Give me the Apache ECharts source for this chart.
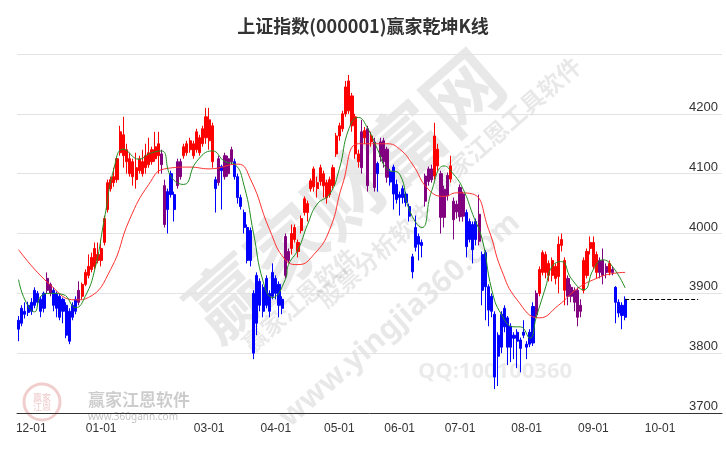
<!DOCTYPE html>
<html><head><meta charset="utf-8">
<script src="https://cdn.jsdelivr.net/npm/echarts@6/dist/echarts.min.js"></script>
<style>html,body{margin:0;padding:0;background:#fff}#c{width:726px;height:450px}</style>
</head><body><div id="c"></div>
<script>
const TOTAL_CATS = 222;
const monthStarts = [4,26,60,81,101,120,139,160,181,202];
const monthLabels = ['12-01','01-01','03-01','04-01','05-01','06-01','07-01','08-01','09-01','10-01'];
const yTicks = [3700,3800,3900,4000,4100,4200];
// [kind, open, close, low, high]  r=red b=blue p=purple
const candles = [
['b',3840,3855,3820,3862],['b',3850,3875,3845,3880],['b',3865,3870,3858,3885],['b',3868,3880,3862,3886],
['b',3870,3885,3864,3892],['b',3880,3905,3875,3910],['b',3885,3900,3880,3904],['b',3870,3890,3860,3895],
['b',3875,3900,3868,3903],['p',3905,3925,3900,3935],['p',3900,3915,3895,3918],['b',3880,3905,3870,3910],
['b',3875,3900,3860,3903],['b',3860,3895,3855,3900],['b',3870,3890,3850,3893],['b',3830,3880,3825,3885],
['b',3820,3870,3815,3875],['b',3860,3880,3855,3885],['b',3870,3890,3865,3895],['p',3885,3905,3880,3920],
['r',3895,3915,3890,3918],['r',3915,3935,3912,3940],['r',3930,3945,3925,3965],['r',3940,3960,3935,3968],
['r',3945,3975,3940,3985],['r',3955,3965,3950,3985],['r',3955,3975,3945,3990],['r',3985,4025,3980,4030],
['r',4040,4085,4035,4090],['r',4075,4090,4070,4095],['r',4085,4095,4078,4110],['r',4090,4125,4085,4128],
['r',4135,4170,4130,4180],['r',4130,4165,4110,4195],['r',4120,4140,4100,4150],['r',4100,4125,4095,4135],
['r',4095,4120,4080,4125],['r',4090,4110,4075,4135],['r',4105,4125,4100,4130],['r',4100,4120,4095,4140],
['r',4110,4130,4100,4150],['r',4115,4135,4110,4160],['r',4120,4140,4115,4145],['r',4125,4145,4120,4170],
['r',4130,4150,4100,4170],['p',4115,4133,4100,4140],['p',4015,4080,4010,4090],['b',4040,4070,4000,4075],
['b',4065,4100,4060,4105],['b',4040,4065,4020,4070],['p',4080,4120,4075,4125],['p',4095,4120,4090,4125],
['r',4130,4145,4125,4150],['r',4135,4150,4130,4155],['r',4140,4155,4135,4160],['r',4130,4150,4125,4155],
['r',4140,4170,4135,4175],['r',4135,4160,4130,4165],['r',4150,4175,4145,4180],['r',4160,4195,4150,4210],
['r',4155,4190,4140,4210],['r',4120,4180,4110,4185],['b',4075,4090,4035,4095],['p',4085,4125,4080,4130],
['b',4105,4112,4040,4115],['p',4095,4130,4090,4135],['p',4100,4125,4095,4130],['p',4120,4140,4115,4145],
['b',4095,4120,4090,4125],['b',4060,4095,4050,4100],['b',4045,4060,4040,4065],['b',4010,4035,4000,4040],
['b',3955,4010,3950,4015],['b',3955,4005,3945,4010],['b',3800,3900,3790,3905],['b',3850,3930,3830,3935],
['b',3880,3920,3870,3925],['b',3870,3910,3860,3915],['b',3880,3925,3875,3930],['b',3870,3900,3860,3905],
['b',3895,3935,3890,3950],['b',3900,3925,3890,3930],['b',3880,3915,3860,3920],['b',3875,3890,3865,3895],
['p',3930,3995,3925,4000],['p',3955,3970,3950,3975],['r',3975,4000,3965,4015],['r',3990,4010,3985,4015],
['r',3970,3985,3960,3990],['r',4005,4025,4000,4030],['r',4035,4058,4030,4062],['r',4035,4050,4020,4055],
['r',4075,4088,4070,4092],['r',4078,4108,4070,4112],['r',4075,4085,4060,4095],['r',4087,4110,4080,4115],
['r',4080,4100,4060,4105],['r',4060,4085,4050,4090],['r',4065,4090,4060,4095],['r',4080,4110,4075,4115],
['r',4133,4163,4128,4168],['r',4163,4180,4155,4185],['r',4175,4200,4170,4205],['r',4200,4245,4195,4255],
['r',4205,4255,4200,4265],['r',4180,4230,4170,4235],['r',4133,4195,4125,4200],['r',4120,4133,4110,4140],
['p',4110,4170,4100,4190],['r',4160,4172,4150,4178],['p',4080,4175,4070,4180],['r',4153,4163,4145,4170],
['p',4077,4153,4070,4160],['b',4100,4117,4070,4120],['p',4128,4153,4120,4160],['p',4120,4155,4110,4160],
['p',4094,4141,4085,4145],['b',4086,4103,4080,4108],['b',4066,4111,4040,4115],['b',4057,4082,4050,4090],
['b',4060,4065,4030,4070],['b',4060,4075,4050,4080],['b',4052,4066,4045,4070],['b',4029,4045,4020,4050],
['b',3936,3961,3925,3966],['b',3977,4010,3970,4030],['b',3982,3995,3955,4000],['b',3980,3985,3960,3990],
['p',4054,4096,4045,4100],['p',4087,4108,4080,4112],['p',4090,4108,4085,4115],['r',4096,4163,4090,4185],
['r',4113,4141,4105,4150],['p',4027,4100,4000,4105],['p',4027,4074,4010,4080],['p',4063,4097,4055,4102],
['r',4091,4113,4085,4130],['p',4023,4054,3990,4060],['p',4036,4049,4025,4055],['p',4028,4077,4020,4082],
['p',4029,4066,4020,4070],['b',3978,4035,3960,4040],['b',3990,4020,3985,4025],['b',3973,4015,3950,4020],
['b',3990,4020,3980,4025],['p',3987,4032,3980,4065],['b',3905,3965,3880,3970],['b',3911,3968,3855,3972],
['b',3872,3911,3845,3915],['b',3870,3895,3860,3900],['b',3760,3865,3740,3870],['b',3795,3830,3745,3835],
['b',3810,3865,3800,3870],['b',3844,3875,3835,3880],['b',3810,3859,3780,3862],['b',3810,3845,3785,3850],
['b',3825,3830,3790,3835],['b',3820,3835,3775,3840],['b',3808,3822,3768,3826],['b',3830,3835,3825,3855],
['b',3810,3815,3790,3820],['b',3815,3835,3810,3840],['b',3817,3878,3812,3885],['p',3864,3900,3860,3905],
['r',3900,3940,3895,3945],['r',3935,3968,3930,3972],['r',3935,3965,3925,3970],['r',3930,3950,3920,3955],
['r',3930,3955,3920,3960],['r',3925,3945,3915,3950],['r',3928,3982,3900,3995],['r',3980,3990,3970,4000],
['r',3905,3955,3880,3960],['p',3895,3925,3880,3930],['p',3895,3910,3885,3915],['p',3885,3905,3870,3910],
['p',3860,3905,3845,3910],['p',3870,3880,3860,3890],['r',3905,3955,3900,3960],['r',3930,3970,3925,3975],
['r',3975,3985,3965,3995],['r',3945,3985,3940,3995],['r',3935,3965,3925,3970],['p',3935,3955,3925,3960],
['p',3930,3955,3915,3975],['p',3935,3945,3925,3950],['r',3935,3950,3930,3955],['p',3935,3940,3930,3945],
['b',3885,3910,3850,3912],['b',3867,3885,3860,3890],['b',3863,3880,3840,3885],['b',3860,3890,3855,3895]
];
const maGreen = [[0,3923],[2,3889],[5,3869],[7,3895],[10,3900],[14,3898],[18,3876],[21,3895],[24,3940],[27,4024],
[30,4108],[33,4141],[38,4124],[41,4133],[45,4138],[48,4095],[52,4082],[56,4120],[61,4138],[65,4120],[68,4116],
[71,4080],[74,4000],[77,3920],[80,3893],[84,3923],[85,3948],[88,3973],[91,4015],[94,4049],[98,4066],[101,4108],
[104,4175],[107,4194],[110,4175],[113,4141],[116,4108],[120,4099],[123,4040],[127,4010],[130,4070],[134,4113],
[137,4099],[140,4074],[143,4032],[146,3990],[149,3906],[152,3865],[156,3844],[158,3844],[161,3825],[163,3860],
[166,3911],[168,3945],[171,3953],[174,3925],[178,3906],[181,3940],[184,3956],[187,3945],[191,3909]];
const maRed = [[0,3973],[10,3914],[18,3889],[22,3893],[29,3940],[35,4024],[41,4082],[46,4108],[54,4111],[60,4108],
[69,4116],[73,4091],[79,4007],[84,3956],[88,3948],[93,3965],[98,4007],[102,4082],[107,4150],[112,4150],[116,4150],
[120,4141],[124,4116],[129,4074],[134,4062],[138,4068],[143,4066],[148,4007],[152,3940],[157,3889],[164,3859],
[170,3880],[176,3908],[182,3925],[187,3933],[191,3935]];
const lastClose = 3890;

const cats = Array.from({length: TOTAL_CATS}, (_, i) => i);
const colorMap = {r:'#ff0000', b:'#0000ff', p:'#800080'};
function sub(k){ return candles.map(c => c[0]===k ? [c[1],c[2],c[3],c[4]] : '-'); }
function kSeries(k){ return {type:'candlestick', data: sub(k), barWidth: 2.6, silent:true,
  itemStyle:{color:colorMap[k], color0:colorMap[k], borderColor:colorMap[k], borderColor0:colorMap[k], borderWidth:1}}; }
const chart = echarts.init(document.getElementById('c'));
const wm = 'rgba(0,0,0,0.09)';
chart.setOption({
  animation:false,
  title:{text:'上证指数(000001)赢家乾坤K线', left:'center', top:12, textStyle:{fontSize:18, fontWeight:'bold', color:'#333', fontFamily:'Noto Sans CJK SC'}},
  grid:{left:17, right:4, top:54, bottom:37},
  xAxis:{type:'category', data:cats, boundaryGap:true,
    axisLine:{lineStyle:{color:'#333'}},
    axisTick:{alignWithLabel:true, interval:(i)=>monthStarts.includes(i), lineStyle:{color:'#333'}},
    axisLabel:{interval:(i)=>monthStarts.includes(i), formatter:(v,i)=>{const k=monthStarts.indexOf(+v);return k>=0?monthLabels[k]:'';}, color:'#333', fontSize:12, margin:10},
    splitLine:{show:false}},
  yAxis:{type:'value', position:'right', min:3700, max:4300, interval:100,
    axisLine:{show:false}, axisTick:{show:false},
    axisLabel:{inside:true, color:'#333', fontSize:13, formatter:(v)=>yTicks.includes(v)?String(v):'', verticalAlign:'bottom', margin:4},
    splitLine:{lineStyle:{color:'#e3e3e3'}}},
  series:[
    kSeries('b'), kSeries('p'), kSeries('r'),
    {type:'line', data:maRed, smooth:0.5, showSymbol:false, lineStyle:{color:'#ff3030', width:1}, silent:true},
    {type:'line', data:maGreen, smooth:0.5, showSymbol:false, lineStyle:{color:'#228b22', width:1}, silent:true,
     markLine:{silent:true, symbol:'none', label:{show:false}, lineStyle:{color:'#000', type:'dashed', width:1},
       data:[[{coord:[candles.length-1, lastClose]},{coord:[214, lastClose]}]]}}
  ],
  graphic:[
    {type:'text', x:345, y:195, rotation:0.72, style:{text:'赢家财富网', fontSize:78, fontWeight:'bold', fill:wm, align:'center', verticalAlign:'middle', fontFamily:'Noto Sans CJK SC'}},
    {type:'text', x:300, y:300, rotation:0.72, style:{text:'赢家江恩软件', fontSize:24, fontWeight:'bold', fill:wm, align:'center', verticalAlign:'middle', fontFamily:'Noto Sans CJK SC'}},
    {type:'text', x:375, y:255, rotation:0.72, style:{text:'股票分析软件', fontSize:24, fontWeight:'bold', fill:wm, align:'center', verticalAlign:'middle', fontFamily:'Noto Sans CJK SC'}},
    {type:'text', x:400, y:320, rotation:0.72, style:{text:'www.yingjia360.com', fontSize:30, fontWeight:'bold', fill:wm, align:'center', verticalAlign:'middle', fontFamily:'Noto Sans'}},
    {type:'text', x:505, y:125, rotation:0.72, style:{text:'赢家江恩工具软件', fontSize:24, fontWeight:'bold', fill:wm, align:'center', verticalAlign:'middle', fontFamily:'Noto Sans CJK SC'}},
    {type:'text', x:495, y:372, style:{text:'QQ:100100360', fontSize:22, fontWeight:'bold', fill:'rgba(0,0,0,0.08)', align:'center', verticalAlign:'middle', fontFamily:'Noto Sans'}},
    {type:'circle', shape:{cx:42, cy:402, r:18}, style:{fill:'none', stroke:'rgba(200,60,60,0.25)', lineWidth:3}},
    {type:'text', x:42, y:402, style:{text:'赢家\n江恩', fontSize:9, fill:'rgba(200,60,60,0.3)', align:'center', verticalAlign:'middle', fontFamily:'Noto Sans CJK SC'}},
    {type:'text', x:88, y:400, style:{text:'赢家江恩软件', fontSize:17, fontWeight:'bold', fill:'rgba(0,0,0,0.2)', verticalAlign:'middle', fontFamily:'Noto Sans CJK SC'}},
    {type:'text', x:88, y:417, style:{text:'www.360gann.com', fontSize:10, fill:'rgba(0,0,0,0.25)', verticalAlign:'middle', fontFamily:'Noto Sans'}}
  ]
});
</script></body></html>
